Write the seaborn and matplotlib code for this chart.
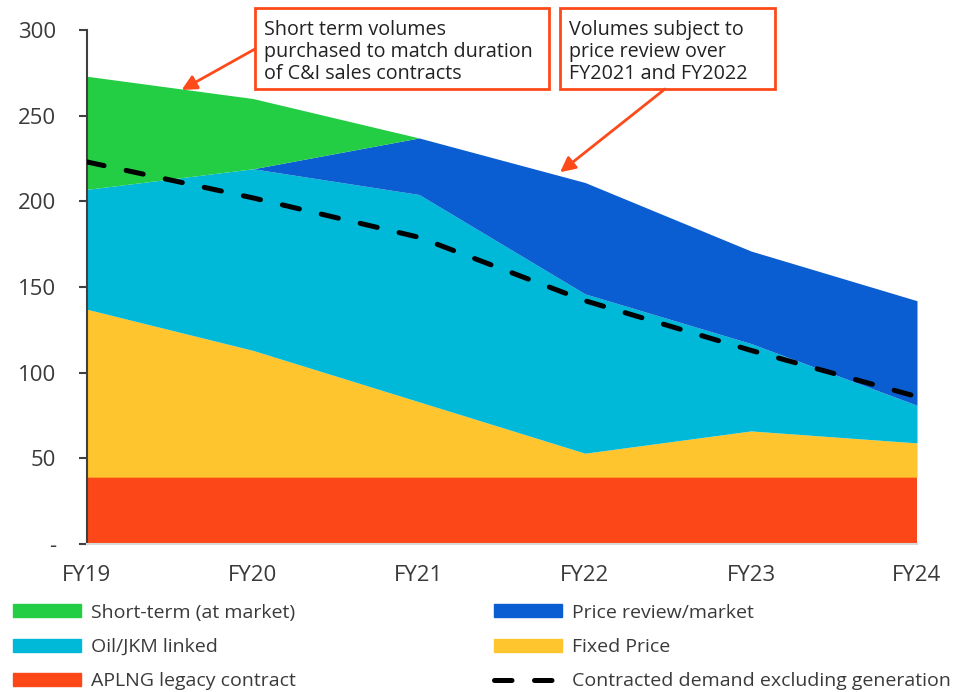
import numpy as np
import pandas as pd
import matplotlib
matplotlib.use("Agg")
import matplotlib.pyplot as plt
import seaborn as sns
from matplotlib.patches import Patch, Rectangle
from matplotlib.lines import Line2D

# Data
years = ["FY19", "FY20", "FY21", "FY22", "FY23", "FY24"]
aplng_legacy = [39, 39, 39, 39, 39, 39]
fixed_price = [98, 74, 44, 14, 27, 20]
oil_jkm = [70, 106, 121, 93, 51, 22]
price_review = [0, 0, 33, 65, 54, 61]
short_term = [66, 41, 0, 0, 0, 0]
contracted_demand = [223, 202, 179, 142, 113, 86]

yticks = [0, 50, 100, 150, 200, 250, 300]
ytick_labels = ["-", "50", "100", "150", "200", "250", "300"]

# Colours
c_legacy = "#FC4819"
c_fixed = "#FEC52E"
c_oil = "#00B8D7"
c_review = "#0B5ED1"
c_short = "#23CE45"
c_note = "#FC4A1A"
c_text = "#3a3a3a"

sns.set_style("white")
plt.rcParams["font.family"] = ["Open Sans", "DejaVu Sans"]

W, H = 961, 692
fig = plt.figure(figsize=(W / 100, H / 100), dpi=100)
ax = fig.add_axes([87 / W, 1 - 544 / H, (917 - 87) / W, (544 - 30) / H])

x = np.arange(len(years))
ax.stackplot(x, aplng_legacy, fixed_price, oil_jkm, price_review, short_term,
             colors=[c_legacy, c_fixed, c_oil, c_review, c_short], linewidth=0)

df = pd.DataFrame({"x": x, "demand": contracted_demand})
sns.lineplot(data=df, x="x", y="demand", ax=ax, color="black", lw=3.6,
             dashes=False, zorder=5)
line = ax.lines[-1]
line.set_dashes((3.5, 4.5))
line.set_dash_capstyle("round")

ax.set_xlim(0, 5)
ax.set_ylim(0, 300)
ax.set_xticks(x)
ax.set_xticklabels(years)
ax.set_yticks(yticks)
ax.set_yticklabels(ytick_labels)
ax.set_xlabel("")
ax.set_ylabel("")
ax.tick_params(axis="y", length=6, width=1.5, color="#404040", pad=16,
               labelsize=16, labelcolor=c_text, left=True)
ax.tick_params(axis="x", length=0, pad=15, labelsize=16, labelcolor=c_text)

for s in ["top", "right"]:
    ax.spines[s].set_visible(False)
ax.spines["left"].set_color("#404040")
ax.spines["left"].set_linewidth(1.5)
ax.spines["bottom"].set_color("#d9d9d9")
ax.spines["bottom"].set_linewidth(1.5)


# Annotation boxes (pixel positions converted to figure fraction)
def fx(px):
    return px / W


def fy(py):
    return 1 - py / H


boxes = [
    (255, 8, 549, 89, "Short term volumes\npurchased to match duration\nof C&I sales contracts"),
    (560, 8, 775, 89, "Volumes subject to\nprice review over\nFY2021 and FY2022"),
]
for x0, y0, x1, y1, txt in boxes:
    fig.add_artist(Rectangle((fx(x0), fy(y1)), fx(x1 - x0), (y1 - y0) / H,
                             transform=fig.transFigure, fill=False,
                             edgecolor=c_note, linewidth=2))
    fig.text(fx(x0 + 9), fy(y0 + 12), txt, ha="left", va="top", fontsize=14.2,
             color="#222222", linespacing=1.13)

# Arrows
arrows = [((255, 49), (0.57, 265)), ((665, 89), (2.85, 217))]
for (sx, sy), tip in arrows:
    ax.annotate("", xy=tip, xycoords="data",
                xytext=(fx(sx), fy(sy)), textcoords="figure fraction",
                arrowprops=dict(arrowstyle="-|>,head_length=0.9,head_width=0.45",
                                color=c_note, lw=2, shrinkA=0, shrinkB=0),
                annotation_clip=False)

# Legend
handles = [
    Patch(color=c_short, label="Short-term (at market)"),
    Patch(color=c_oil, label="Oil/JKM linked"),
    Patch(color=c_legacy, label="APLNG legacy contract"),
    Patch(color=c_review, label="Price review/market"),
    Patch(color=c_fixed, label="Fixed Price"),
    Line2D([0], [0], color="black", lw=3.6, dashes=(3.5, 4.5),
           dash_capstyle="round", label="Contracted demand excluding generation"),
]
leg = fig.legend(handles=handles, ncol=2, loc="upper left",
                 bbox_to_anchor=(fx(5), fy(596)), frameon=False, fontsize=14,
                 handlelength=3.5, handleheight=0.65, handletextpad=0.5,
                 labelspacing=0.84, columnspacing=10.2, borderaxespad=0)
for t in leg.get_texts():
    t.set_color(c_text)

fig.savefig("out.png", dpi=100)
